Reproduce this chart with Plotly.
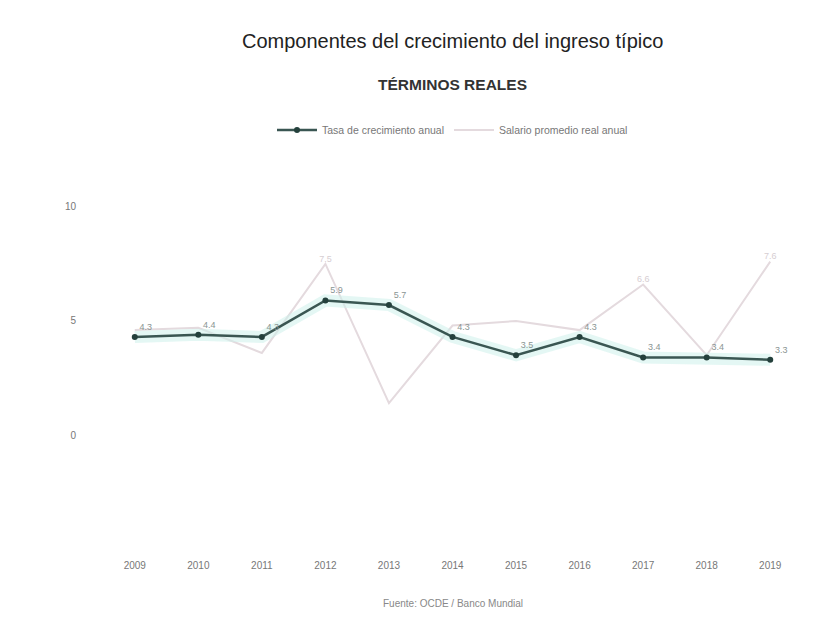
import plotly.graph_objects as go

years = ["2009", "2010", "2011", "2012", "2013", "2014", "2015", "2016", "2017", "2018", "2019"]
tasa_anual = [4.3, 4.4, 4.3, 5.9, 5.7, 4.3, 3.5, 4.3, 3.4, 3.4, 3.3]
salario_real = [4.6, 4.7, 3.6, 7.5, 1.4, 4.8, 5.0, 4.6, 6.6, 3.5, 7.6]
light_label_years = ["2012", "2017", "2019"]
y_ticks = [0, 5, 10]

title_text = "Componentes del crecimiento del ingreso típico"
subtitle_text = "TÉRMINOS REALES"
source_text = "Fuente: OCDE / Banco Mundial"
name_dark = "Tasa de crecimiento anual"
name_light = "Salario promedio real anual"

light_text = [f"{v:.1f}" if yr in light_label_years else "" for yr, v in zip(years, salario_real)]

fig = go.Figure()

fig.add_trace(go.Scatter(
    x=years, y=salario_real, name=name_light, mode="lines+text",
    line=dict(color="#e4dade", width=2),
    text=light_text, textposition="top center",
    textfont=dict(size=9, color="#d6ced2"),
))
fig.add_trace(go.Scatter(
    x=years, y=tasa_anual, mode="lines", showlegend=False, hoverinfo="skip",
    line=dict(color="rgba(205,240,235,0.55)", width=12),
))
fig.add_trace(go.Scatter(
    x=years, y=tasa_anual, name=name_dark, mode="lines+markers+text",
    line=dict(color="#3a5652", width=2.5),
    marker=dict(size=6, color="#24403c"),
    text=[f"{v:.1f}" for v in tasa_anual], textposition="top right",
    textfont=dict(size=9, color="#8a9593"),
))

H = 629
off = 8  # page body margin
plot_top = 180 - off
plot_bottom = 550 - off
ph = plot_bottom - plot_top


def py(px):
    return (plot_bottom - (px - off)) / ph


fig.update_layout(
    width=833, height=H,
    paper_bgcolor="white", plot_bgcolor="white",
    font=dict(family="Liberation Sans, Arial, sans-serif", color="#777"),
    margin=dict(l=103 - off, r=39, t=plot_top, b=H - plot_bottom, autoexpand=False),
    annotations=[
        dict(text=title_text, x=0.5, y=py(41), xref="paper", yref="paper", yanchor="middle",
             showarrow=False, font=dict(size=20, color="#222")),
        dict(text="<b>" + subtitle_text + "</b>", x=0.5, y=py(85), xref="paper", yref="paper",
             yanchor="middle", showarrow=False, font=dict(size=15.5, color="#333")),
        dict(text=source_text, x=0.5, y=py(603), xref="paper", yref="paper", yanchor="middle",
             showarrow=False, font=dict(size=10, color="#888")),
    ],
    legend=dict(orientation="h", x=0.5, xanchor="center", xref="paper",
                y=1 - (130 - off) / H, yanchor="middle", yref="container",
                traceorder="reversed", itemwidth=40,
                font=dict(size=10.5, color="#777")),
    showlegend=True,
)
fig.update_xaxes(type="category", range=[-0.5, 10.5], showgrid=False, zeroline=False,
                 showline=False, ticks="", tickfont=dict(size=10, color="#777"),
                 ticklabelstandoff=8, automargin=False)
fig.update_yaxes(range=[-5.04, 11.18], tickvals=y_ticks, showgrid=False, zeroline=False,
                 showline=False, tickfont=dict(size=10, color="#777"), ticklabelstandoff=26,
                 automargin=False)

fig.write_html("out.html")
